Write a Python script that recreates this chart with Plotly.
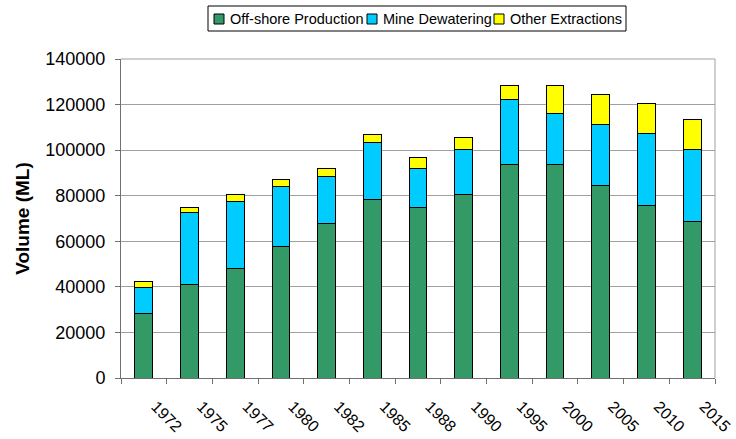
import plotly.graph_objects as go

# Annual extraction volumes (ML) by source
years = ["1972", "1975", "1977", "1980", "1982", "1985", "1988",
         "1990", "1995", "2000", "2005", "2010", "2015"]
offshore = [28300, 41000, 48100, 57800, 67700, 78200, 74700,
            80400, 93700, 93700, 84500, 75900, 68600]
dewatering = [11600, 31500, 29300, 26300, 20800, 25000, 17300,
              19800, 28500, 22300, 26600, 31300, 31600]
other = [2500, 2200, 3100, 2900, 3600, 3700, 4800,
         5300, 6200, 12400, 13400, 13400, 13400]

series_names = ["Off-shore Production", "Mine Dewatering", "Other Extractions"]
series_colors = ["#339966", "#00CCFF", "#FFFF00"]
series_values = [offshore, dewatering, other]

FONT = "Liberation Sans, Arial, sans-serif"
W, H = 736, 439
ML, MR, MT, MB = 121, 21, 59, 61
PW, PH = W - ML - MR, H - MT - MB

fig = go.Figure()
for name, color, vals in zip(series_names, series_colors, series_values):
    fig.add_trace(go.Bar(
        x=years, y=vals, name=name,
        marker=dict(color=color, line=dict(color="#000000", width=1)),
        showlegend=False,
    ))

# pixel -> paper helpers for the hand-built legend box
def px_x(p):
    return (p - ML) / PW

def px_y(p):
    return (H - MB - p) / PH

shapes = [
    # grey frame on top and right of the plot area
    dict(type="line", xref="paper", yref="paper", x0=0, x1=1, y0=1, y1=1,
         line=dict(color="#A0A0A0", width=1)),
    dict(type="line", xref="paper", yref="paper", x0=1, x1=1, y0=0, y1=1,
         line=dict(color="#A0A0A0", width=1)),
    # legend border
    dict(type="rect", xref="paper", yref="paper",
         x0=px_x(208), x1=px_x(626), y0=px_y(31), y1=px_y(6),
         line=dict(color="#000000", width=1), fillcolor="white"),
]
annotations = []
sym_left = [214, 367, 494]
text_left = [228, 381, 508]
for name, color, sx, tx in zip(series_names, series_colors, sym_left, text_left):
    shapes.append(dict(type="rect", xref="paper", yref="paper",
                       x0=px_x(sx), x1=px_x(sx + 10), y0=px_y(24), y1=px_y(14),
                       fillcolor=color, line=dict(color="#000000", width=1)))
    annotations.append(dict(xref="paper", yref="paper", x=px_x(tx), y=px_y(18.5),
                            text=name, showarrow=False, xanchor="left",
                            yanchor="middle", font=dict(family=FONT, size=14.5,
                                                        color="#000000")))

fig.update_layout(
    width=W, height=H,
    margin=dict(l=ML, r=MR, t=MT, b=MB),
    barmode="stack", bargap=0.61,
    paper_bgcolor="white", plot_bgcolor="white",
    font=dict(family=FONT, color="#000000"),
    shapes=shapes, annotations=annotations,
    xaxis=dict(
        type="category", tickson="boundaries", ticks="outside", ticklen=5,
        tickcolor="#707070", showline=True, linecolor="#707070", linewidth=1,
        showgrid=False, tickangle=45, tickfont=dict(family=FONT, size=16),
        ticklabelshift=12, ticklabelstandoff=12, automargin=False,
    ),
    yaxis=dict(
        range=[0, 140000], dtick=20000, tickformat="d",
        ticks="outside", ticklen=5, tickcolor="#707070",
        showline=True, linecolor="#707070", linewidth=1,
        showgrid=True, gridcolor="#A0A0A0", gridwidth=1, zeroline=False,
        tickfont=dict(family=FONT, size=18), ticklabelstandoff=6,
        automargin=False,
        title=dict(text="<b>Volume (ML)</b>", font=dict(family=FONT, size=19),
                   standoff=10),
    ),
)

fig.write_html("out.html")
